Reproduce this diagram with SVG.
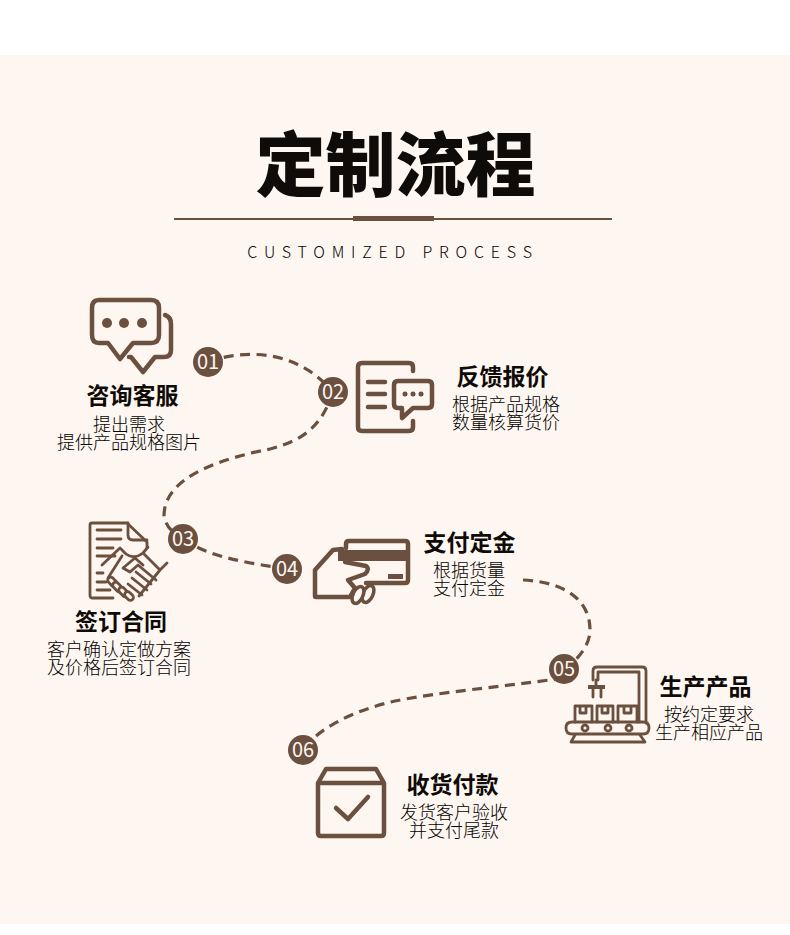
<svg xmlns="http://www.w3.org/2000/svg" width="790" height="935" viewBox="0 0 790 935">
<style>
.cjk{font-family:"Noto Sans CJK SC","Noto Sans",sans-serif;text-anchor:middle}
.h{font-size:23px;font-weight:700;fill:#0f0b08}
.s{font-size:18px;font-weight:300;fill:#000000}
.n{font-family:"Noto Sans CJK SC","Noto Sans",sans-serif;font-size:20px;font-weight:400;fill:#fef7f1;text-anchor:middle}
.b{fill:#6b4f3f}
.i{fill:none;stroke:#6b4f3f;stroke-width:4.500;stroke-linecap:round;stroke-linejoin:round}
.t{fill:none;stroke:#6b4f3f;stroke-width:2.800;stroke-linecap:round;stroke-linejoin:round}
.d{fill:none;stroke:#6b4f3f;stroke-width:3.200;stroke-dasharray:10 6.500}
</style>
<rect width="790" height="935" fill="#ffffff"/>
<rect y="55" width="790" height="869" fill="#fef7f1"/>
<g id="title">
<text class="cjk" x="395.500" y="191" font-size="70" font-weight="900" fill="#0f0b08">定制流程</text>
<rect x="174" y="218" width="438" height="2" class="b"/>
<rect x="353" y="216" width="81" height="5" class="b"/>
<text class="cjk" x="393" y="258" font-size="16" font-weight="300" letter-spacing="6.800" fill="#000000">CUSTOMIZED PROCESS</text>
</g>
<g id="connectors">
<path class="d" d="M208 362C240 350 295 347 333 392"/>
<path class="d" d="M333 392C322 425 305 440 270 449C225 458 165 475 164 515C165 525 172 533 183 539"/>
<path class="d" d="M183 539C210 558 250 563 287 569"/>
<path class="d" d="M523 580C565 582 590 600 590 630C590 645 578 660 564 669"/>
<path class="d" d="M564 678C500 687 440 692 395 701C355 710 318 728 303 750"/>
</g>
<g id="step01">
<path class="i" d="M99 300H151Q159 300 159 308V335Q159 343 151 343H133L120 359L108 343H99Q92 343 92 335V308Q92 300 99 300Z"/>
<path class="i" d="M165 315Q171 317 171 324V350Q171 357 164 357H155L143 372L131 357H129"/>
<circle class="b" cx="107" cy="323" r="5"/><circle class="b" cx="124" cy="323" r="5"/><circle class="b" cx="142" cy="323" r="5"/>
<circle class="b" cx="208" cy="362" r="15"/><text class="n" x="208" y="369">01</text>
<text class="cjk h" x="132.500" y="404">咨询客服</text>
<text class="cjk s"><tspan x="129" y="431">提出需求</tspan><tspan x="129" y="449">提供产品规格图片</tspan></text>
</g>
<g id="step02">
<path class="i" stroke-width="5" d="M413 371V367Q413 363 409 363H362Q358 363 358 367V427Q358 431 362 431H409Q413 431 413 427V421"/>
<path class="i" stroke-width="5" d="M368 382H385M368 394H385M368 407H385"/>
<path class="i" stroke-width="5" d="M398 381H428Q432 381 432 385V404Q432 408 428 408H413L402 418V408H398Q394 408 394 404V385Q394 381 398 381Z"/>
<circle class="b" cx="405" cy="394" r="2.500"/><circle class="b" cx="413" cy="394" r="2.500"/><circle class="b" cx="421" cy="394" r="2.500"/>
<circle class="b" cx="333" cy="392" r="15"/><text class="n" x="333" y="399">02</text>
<text class="cjk h" x="502.500" y="385">反馈报价</text>
<text class="cjk s"><tspan x="506" y="411">根据产品规格</tspan><tspan x="506" y="429">数量核算货价</tspan></text>
</g>
<g id="step03">
<path class="t" d="M113 598H92Q90 598 90 595V525Q90 523 92 523H127L147 542V548"/>
<path class="t" d="M128 523V535Q128 540 133 540H147"/>
<path class="t" d="M97 530H121M97 539H121M97 548H113M97 556H115M97 573H103M97 582H106M97 590H110"/>
<path class="t" d="M102 565L120 548L126 554Q134 560 143 553L160 570L139 596M148 547L143 553M167 563L160 570"/>
<path class="t" d="M122 556L108 578M143 565L135 558L123 568L130 572L138 565L156 580"/>
<path class="t" d="M136 572L151 584M132 578L147 590M128 584L142 595"/>
<g fill="#fef7f1" stroke="#6b4f3f" stroke-width="2.800"><rect x="107" y="579" width="11" height="6" rx="3" transform="rotate(45 112.500 582)"/><rect x="112" y="584" width="11" height="6" rx="3" transform="rotate(45 117.500 587)"/><rect x="118" y="589" width="11" height="6" rx="3" transform="rotate(45 123.500 592)"/><rect x="124" y="593" width="10" height="6" rx="3" transform="rotate(45 129 596)"/></g>
<circle class="b" cx="183" cy="539" r="15"/><text class="n" x="183" y="546">03</text>
<text class="cjk h" x="121" y="630">签订合同</text>
<text class="cjk s"><tspan x="119" y="656">客户确认定做方案</tspan><tspan x="119" y="674">及价格后签订合同</tspan></text>
</g>
<g id="step04">
<rect class="b" x="338" y="550" width="72" height="11"/>
<rect class="b" x="388" y="574" width="15" height="5"/>
<path class="i" d="M346 548V544Q346 541 349 541H405Q408 541 408 544V580Q408 583 405 583H366"/>
<path class="i" stroke-width="5.500" d="M342 549L333 550L315 570V596Q315 597 316 597H350L355 588L348 580L365 574Q370 569 366 566L345 562"/>
<g fill="#fef7f1" stroke="#6b4f3f" stroke-width="3.500"><ellipse cx="368" cy="594" rx="5" ry="9" transform="rotate(25 368 594)"/><ellipse cx="358" cy="595" rx="5" ry="9" transform="rotate(25 358 595)"/></g>
<circle class="b" cx="287" cy="569" r="15"/><text class="n" x="287" y="576">04</text>
<text class="cjk h" x="469.500" y="551">支付定金</text>
<text class="cjk s"><tspan x="469" y="577">根据货量</tspan><tspan x="469" y="595">支付定金</tspan></text>
</g>
<g id="step05">
<path class="t" d="M593 680V671Q593 667 597 667H642Q646 667 646 671V723M598 680V672H639V722"/>
<rect class="b" x="588" y="685" width="17" height="4"/>
<path class="t" d="M596 680V685M593 689V697M601 689V697"/>
<path class="t" d="M575 722V706H592V722M597 722V706H613V722M618 722V706H637V722M580 706V713H586V706M602 706V713H608V706M624 706V713H631V706"/>
<path class="t" d="M572 722H643Q649 722 649 728Q649 734 643 734H572Q566 734 566 728Q566 722 572 722Z"/>
<circle class="t" cx="585" cy="728" r="3"/><circle class="t" cx="608" cy="728" r="3"/><circle class="t" cx="629" cy="728" r="3"/>
<path class="t" d="M575 735L571 742H645L640 735"/>
<circle class="b" cx="564" cy="669" r="15"/><text class="n" x="564" y="676">05</text>
<text class="cjk h" x="705.500" y="695">生产产品</text>
<text class="cjk s"><tspan x="709" y="721">按约定要求</tspan><tspan x="709" y="739">生产相应产品</tspan></text>
</g>
<g id="step06">
<path class="i" stroke-width="5" d="M318 783L326 769H376L384 783V833Q384 836 381 836H321Q318 836 318 833ZM318 783H384"/>
<path class="i" stroke-width="6" d="M336 808L348 819L368 797"/>
<circle class="b" cx="303" cy="750" r="15"/><text class="n" x="303" y="757">06</text>
<text class="cjk h" x="452.500" y="793">收货付款</text>
<text class="cjk s"><tspan x="454" y="819">发货客户验收</tspan><tspan x="454" y="837">并支付尾款</tspan></text>
</g>
</svg>
